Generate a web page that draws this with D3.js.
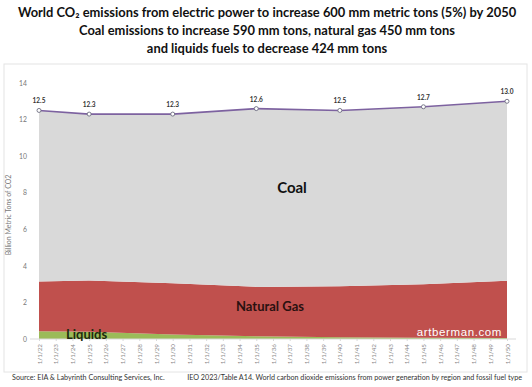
<!DOCTYPE html>
<html>
<head>
<meta charset="utf-8">
<script src="https://cdn.jsdelivr.net/npm/d3@7"></script>
<style>
  body { margin: 0; background: #fff; }
  svg { display: block; font-family: Lato, "Open Sans", sans-serif; }
</style>
</head>
<body>
<div id="chart"></div>
<script>
// Data (billion metric tons CO2)
const years = [2022, 2025, 2030, 2035, 2040, 2045, 2050];
const totalValues = [12.5, 12.3, 12.3, 12.6, 12.5, 12.7, 13.0];
const gasValues = [2.73, 2.80, 2.80, 2.70, 2.78, 2.93, 3.13];
const liquidsValues = [0.42, 0.40, 0.25, 0.15, 0.10, 0.07, 0.05];
const tickYears = d3.range(2022, 2051);
const yTicks = [0, 2, 4, 6, 8, 10, 12, 14];

const titleLines = [
  'World CO\u2082 emissions from electric power to increase 600 mm metric tons (5%) by 2050',
  'Coal emissions to increase 590 mm tons, natural gas 450 mm tons',
  'and liquids fuels to decrease 424 mm tons'
];

const width = 532, height = 387;
const svg = d3.select('#chart').append('svg')
  .attr('width', width)
  .attr('height', height);

// chart frame
svg.append('rect')
  .attr('x', 4).attr('y', 64)
  .attr('width', 523).attr('height', 308)
  .attr('fill', 'none')
  .attr('stroke', '#e4e4e4');

// title
svg.append('g').selectAll('text')
  .data(titleLines)
  .enter()
  .append('text')
  .attr('x', width / 2 + 1)
  .attr('y', (d, i) => 17 + i * 18)
  .attr('text-anchor', 'middle')
  .attr('font-size', 12.9)
  .attr('font-weight', 'bold')
  .attr('fill', '#111')
  .text(d => d);

const x = d3.scaleLinear().domain([2022, 2050]).range([39, 507]);
const y = d3.scaleLinear().domain([0, 14]).range([339, 83]);

const rows = years.map((yr, i) => ({
  year: yr,
  liquids: liquidsValues[i],
  gas: gasValues[i],
  coal: totalValues[i] - gasValues[i] - liquidsValues[i],
  total: totalValues[i]
}));

const stack = d3.stack().keys(['liquids', 'gas', 'coal']);
const series = stack(rows);
const colors = { liquids: '#9bbb59', gas: '#c0504d', coal: '#d9d9d9' };

const area = d3.area()
  .x(d => x(d.data.year))
  .y0(d => y(d[0]))
  .y1(d => y(d[1]));

svg.append('g').selectAll('path')
  .data(series)
  .enter()
  .append('path')
  .attr('d', area)
  .attr('fill', d => colors[d.key]);

// axis line at zero
svg.append('line')
  .attr('x1', 30).attr('x2', 516)
  .attr('y1', y(0)).attr('y2', y(0))
  .attr('stroke', '#d9d9d9');

// y axis
const yAxis = d3.axisLeft(y).tickValues(yTicks).tickSize(0).tickPadding(0);
const yg = svg.append('g')
  .attr('transform', 'translate(27,0)')
  .call(yAxis);
yg.select('.domain').remove();
yg.selectAll('text').attr('font-size', 6.8).attr('fill', '#777').attr('font-family', 'Lato, sans-serif');

svg.append('text')
  .attr('transform', 'translate(11,215) rotate(-90)')
  .attr('text-anchor', 'middle')
  .attr('font-size', 7)
  .attr('fill', '#777')
  .text('Billion Metric Tons of CO2');

// x axis
const xAxis = d3.axisBottom(x)
  .tickValues(tickYears)
  .tickSize(2)
  .tickFormat(d => '1/1/' + String(d).slice(2));
const xg = svg.append('g')
  .attr('transform', `translate(0,${y(0)})`)
  .call(xAxis);
xg.select('.domain').remove();
xg.selectAll('line').attr('stroke', '#d9d9d9');
xg.selectAll('text')
  .attr('font-size', 6.3)
  .attr('fill', '#888')
  .attr('font-family', 'Lato, sans-serif')
  .attr('transform', 'rotate(-90)')
  .attr('text-anchor', 'end')
  .attr('x', -5)
  .attr('y', 0)
  .attr('dy', '0.32em');

// total line
const line = d3.line().x(d => x(d.year)).y(d => y(d.total));
svg.append('path')
  .datum(rows)
  .attr('d', line)
  .attr('fill', 'none')
  .attr('stroke', '#7d62a0')
  .attr('stroke-width', 1.6);

svg.append('g').selectAll('circle')
  .data(rows)
  .enter()
  .append('circle')
  .attr('cx', d => x(d.year))
  .attr('cy', d => y(d.total))
  .attr('r', 2)
  .attr('fill', '#fff')
  .attr('stroke', '#6d6d80')
  .attr('stroke-width', 0.9);

svg.append('g').selectAll('text')
  .data(rows)
  .enter()
  .append('text')
  .attr('x', d => x(d.year))
  .attr('y', d => y(d.total) - 7)
  .attr('text-anchor', 'middle')
  .attr('font-size', 6.5)
  .attr('font-weight', 'bold')
  .attr('fill', '#333')
  .text(d => d3.format('.1f')(d.total));

// series labels
svg.append('text')
  .attr('x', 292).attr('y', 193)
  .attr('text-anchor', 'middle')
  .attr('font-size', 15)
  .attr('font-weight', 'bold')
  .attr('fill', '#111')
  .text('Coal');

svg.append('text')
  .attr('x', 270).attr('y', 311)
  .attr('text-anchor', 'middle')
  .attr('font-size', 13)
  .attr('font-weight', 'bold')
  .attr('fill', '#2a1010')
  .text('Natural Gas');

svg.append('text')
  .attr('x', 66).attr('y', 339)
  .attr('font-size', 13)
  .attr('font-weight', 'bold')
  .attr('fill', '#1f2a0e')
  .text('Liquids');

svg.append('text')
  .attr('x', 502).attr('y', 336)
  .attr('text-anchor', 'end')
  .attr('font-size', 11.5)
  .attr('font-family', '"Liberation Sans", Arial, sans-serif')
  .attr('letter-spacing', 0.6)
  .attr('fill', '#fff')
  .text('artberman.com');

// source notes
svg.append('text')
  .attr('x', 12).attr('y', 380)
  .attr('font-size', 7.2)
  .attr('fill', '#333')
  .text('Source:  EIA & Labyrinth Consulting Services, Inc.');

svg.append('text')
  .attr('x', 522).attr('y', 380)
  .attr('text-anchor', 'end')
  .attr('font-size', 7.2)
  .attr('fill', '#333')
  .text('IEO 2023/Table A14. World carbon dioxide emissions from power generation by region and fossil fuel type');
</script>
</body>
</html>
